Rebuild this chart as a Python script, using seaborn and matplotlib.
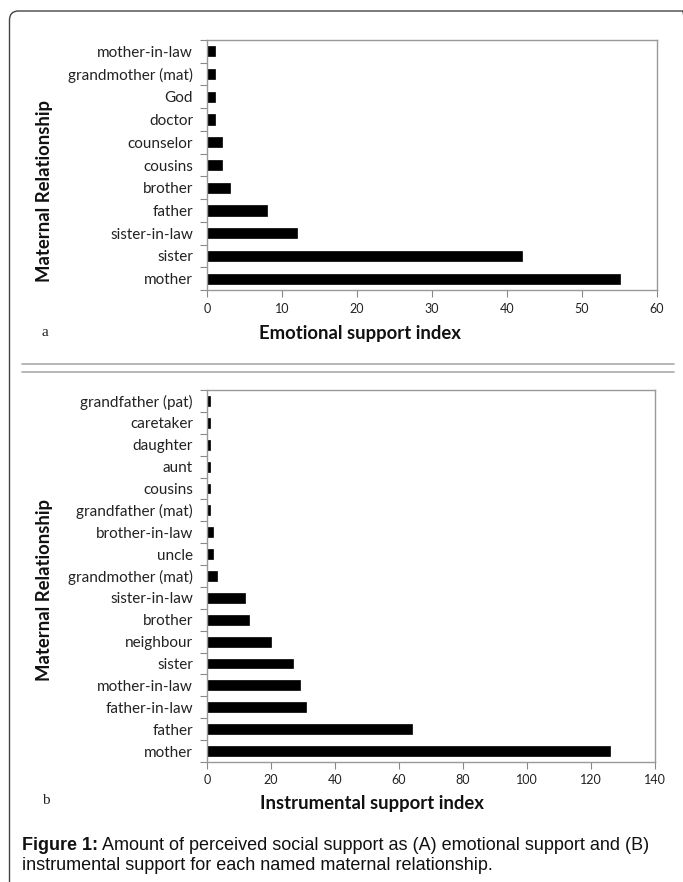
import matplotlib
matplotlib.use("Agg")
import matplotlib.pyplot as plt
import seaborn as sns
import pandas as pd
from matplotlib.patches import FancyBboxPatch
from matplotlib.lines import Line2D
from matplotlib.transforms import IdentityTransform

# Emotional support (panel a), listed top to bottom
emo_labels = ["mother-in-law", "grandmother (mat)", "God", "doctor", "counselor",
              "cousins", "brother", "father", "sister-in-law", "sister", "mother"]
emo_values = [1, 1, 1, 1, 2, 2, 3, 8, 12, 42, 55]
emo_ticks = [0, 10, 20, 30, 40, 50, 60]

# Instrumental support (panel b), listed top to bottom
ins_labels = ["grandfather (pat)", "caretaker", "daughter", "aunt", "cousins",
              "grandfather (mat)", "brother-in-law", "uncle", "grandmother (mat)",
              "sister-in-law", "brother", "neighbour", "sister", "mother-in-law",
              "father-in-law", "father", "mother"]
ins_values = [1, 1, 1, 1, 1, 1, 2, 2, 3, 12, 13, 20, 27, 29, 31, 64, 126]
ins_ticks = [0, 20, 40, 60, 80, 100, 120, 140]

sns.set_theme(style="white")
plt.rcParams["font.family"] = ["Lato", "DejaVu Sans"]

W, H = 683, 882
fig = plt.figure(figsize=(W / 100, H / 100), dpi=100)
fig.patch.set_facecolor("white")


def px_axes(left, top, right, bottom):
    return fig.add_axes([left / W, 1 - bottom / H, (right - left) / W, (bottom - top) / H])


def draw_panel(ax, labels, values, ticks):
    df = pd.DataFrame({"rel": labels, "val": values})
    sns.barplot(data=df, y="rel", x="val", order=labels, color="black",
                width=0.45, saturation=1, ax=ax, edgecolor="black", linewidth=0.5)
    ax.set_xlim(ticks[0], ticks[-1])
    ax.set_ylim(len(labels) - 0.5, -0.5)
    ax.set_xticks(ticks)
    ax.set_xticklabels([str(t) for t in ticks], fontsize=9, color="#222222")
    ax.set_yticks(range(len(labels)))
    ax.set_yticklabels(labels, fontsize=11, color="#222222")
    ax.set_yticks([i - 0.5 for i in range(len(labels) + 1)], minor=True)
    ax.tick_params(axis="y", which="major", length=0, pad=10)
    ax.tick_params(axis="y", which="minor", length=5, width=0.8, color="#888888", left=True)
    ax.tick_params(axis="x", which="major", length=5, width=0.8, color="#888888",
                   bottom=True, pad=4)
    for s in ax.spines.values():
        s.set_color("#999999")
        s.set_linewidth(1.0)
    ax.set_ylabel("")
    ax.set_xlabel("")
    ax.grid(False)


ax_a = px_axes(207, 40, 657, 290)
draw_panel(ax_a, emo_labels, emo_values, emo_ticks)

ax_b = px_axes(207, 390, 655, 762)
draw_panel(ax_b, ins_labels, ins_values, ins_ticks)

# Axis titles and panel letters
title_kw = dict(ha="center", va="center", fontsize=13.3, fontweight="bold", color="#111111")
fig.text(360 / W, 1 - 334 / H, "Emotional support index", **title_kw)
fig.text(372 / W, 1 - 803 / H, "Instrumental support index", **title_kw)
fig.text(45 / W, 1 - 191 / H, "Maternal Relationship", rotation=90, **title_kw)
fig.text(45 / W, 1 - 590 / H, "Maternal Relationship", rotation=90, **title_kw)
fig.text(45 / W, 1 - 332 / H, "a", ha="center", va="center", fontsize=11,
         family="Liberation Serif", color="#222222")
fig.text(46 / W, 1 - 800 / H, "b", ha="center", va="center", fontsize=11,
         family="Liberation Serif", color="#222222")

# Caption
cap_kw = dict(ha="left", va="center", fontsize=13, family="Liberation Sans", color="#111111")
t = fig.text(22 / W, 1 - 845 / H, "Figure 1:", fontweight="bold", **cap_kw)
fig.canvas.draw()
bb = t.get_window_extent()
fig.text((bb.x1 + 4) / W, 1 - 845 / H,
         "Amount of perceived social support as (A) emotional support and (B)", **cap_kw)
fig.text(22 / W, 1 - 866 / H,
         "instrumental support for each named maternal relationship.", **cap_kw)

# Outer rounded frame (open on the right and bottom edges)
frame = FancyBboxPatch((9.5, -30), 682, H - 11 + 30,
                       boxstyle="round,pad=0,rounding_size=9",
                       transform=IdentityTransform(), fill=False,
                       edgecolor="#444444", linewidth=1.0)
fig.patches.append(frame)

# Double rule separating the two panels
for y in (364, 372):
    fig.lines.append(Line2D([22 / W, 674 / W], [1 - y / H, 1 - y / H],
                            transform=fig.transFigure, color="#aaaaaa", linewidth=1.2))

fig.savefig("out.png", dpi=100)
